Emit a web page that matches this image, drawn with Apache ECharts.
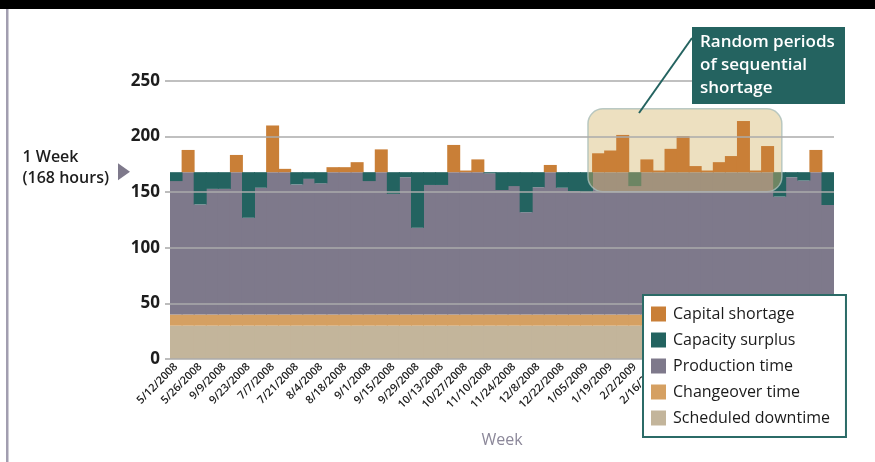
<!DOCTYPE html>
<html>
<head>
<meta charset="utf-8">
<script src="https://cdn.jsdelivr.net/npm/echarts@6/dist/echarts.min.js"></script>
<style>
  html, body { margin: 0; padding: 0; background: #fff; }
  #chart { width: 875px; height: 462px; }
</style>
</head>
<body>
<div id="chart"></div>
<script>
// Tick labels shown under every second week
const tickLabels = [
  '5/12/2008', '5/26/2008', '9/9/2008', '9/23/2008', '7/7/2008', '7/21/2008',
  '8/4/2008', '8/18/2008', '9/1/2008', '9/15/2008', '9/29/2008', '10/13/2008',
  '10/27/2008', '11/10/2008', '11/24/2008', '12/8/2008', '12/22/2008', '1/05/2009',
  '1/19/2009', '2/2/2009', '2/16/2009', '3/2/2009', '3/16/2009', '3/30/2009',
  '4/13/2009', '4/27/2009', '5/11/2009', '5/25/2009'
];

// Hours required per week (55 weeks)
const hoursRequired = [
  160, 188, 139, 153, 153, 183.5, 127, 154, 210, 171,
  157, 162, 158, 172.5, 172.5, 177, 160, 188.5, 148.5, 163.5,
  118, 156.5, 156.5, 192.5, 169.5, 179.5, 167, 152, 155.5, 132,
  154.5, 174.5, 154, 151, 150, 185, 187.5, 201.5, 155.5, 179.5,
  169.5, 189, 200.5, 173.5, 169.5, 177, 182.5, 214, 169.5, 191.5,
  146, 163.5, 160.5, 188, 138.5
];

const weekHours = 168;         // one week of capacity
const scheduledDowntime = 30;  // hours per week
const changeoverTime = 10;     // hours per week

const yTicks = { min: 0, max: 250, interval: 50 };

const colors = {
  shortage: '#c97f37',
  surplus: '#236360',
  production: '#7e798b',
  changeover: '#d5a062',
  downtime: '#c3b59b'
};

const categories = hoursRequired.map((_, i) => i);
const downtimeData = hoursRequired.map(() => scheduledDowntime);
const changeoverData = hoursRequired.map(() => changeoverTime);
const productionData = hoursRequired.map(v => Math.min(v, weekHours) - scheduledDowntime - changeoverTime);
const surplusData = hoursRequired.map(v => (v < weekHours ? weekHours - v : '-'));
const shortageData = hoursRequired.map(v => (v > weekHours ? v - weekHours : '-'));

const FONT = 'Open Sans';

const chart = echarts.init(document.getElementById('chart'), null, { renderer: 'canvas' });

function barSeries(name, data, color, z) {
  return {
    name, type: 'bar', stack: 'hours', data,
    // slightly wider than a category so adjacent weeks join without seams
    barWidth: 13,
    itemStyle: { color },
    z,
    emphasis: { disabled: true },
    animation: false
  };
}

chart.setOption({
  animation: false,
  textStyle: { fontFamily: FONT },
  grid: { left: 170, right: 41, top: 81, bottom: 103, containLabel: false },
  xAxis: {
    type: 'category',
    data: categories,
    boundaryGap: true,
    axisLine: { show: false },
    axisTick: { show: false },
    axisLabel: {
      interval: 0,
      rotate: 45,
      margin: 6,
      fontSize: 11,
      fontWeight: 600,
      color: '#222',
      fontFamily: FONT,
      formatter: (val, idx) => (idx % 2 === 0 ? tickLabels[idx / 2] : '')
    },
    name: 'Week',
    nameLocation: 'middle',
    nameGap: 73,
    nameTextStyle: { color: '#8b8799', fontSize: 16, fontFamily: FONT }
  },
  yAxis: {
    type: 'value',
    min: yTicks.min, max: yTicks.max, interval: yTicks.interval,
    z: 6,
    axisLine: { show: false },
    axisTick: { show: true, length: 5, lineStyle: { color: '#a8a8a8', width: 1.5 } },
    axisLabel: { fontSize: 17, fontWeight: 'bold', color: '#1d1d1d', margin: 10, fontFamily: FONT },
    splitLine: { show: true, lineStyle: { color: '#ababab', width: 1.5 } }
  },
  legend: {
    orient: 'vertical',
    left: 643, top: 295,
    padding: [11, 16, 11, 8],
    itemWidth: 15, itemHeight: 15, itemGap: 10,
    backgroundColor: '#fff',
    borderColor: '#2b6b67', borderWidth: 2,
    icon: 'rect',
    z: 20,
    selectedMode: false,
    textStyle: { fontSize: 16, color: '#1b1b1b', fontFamily: FONT, padding: [0, 0, 0, 2] },
    data: ['Capital shortage', 'Capacity surplus', 'Production time', 'Changeover time', 'Scheduled downtime']
  },
  series: [
    barSeries('Scheduled downtime', downtimeData, colors.downtime, 2),
    barSeries('Changeover time', changeoverData, colors.changeover, 2),
    barSeries('Production time', productionData, colors.production, 2),
    barSeries('Capacity surplus', surplusData, colors.surplus, 2),
    barSeries('Capital shortage', shortageData, colors.shortage, 4)
  ]
});

// Highlight box around the run of shortage weeks, placed on the axes
const firstIdx = 35, lastIdx = 50;
const cx0 = chart.convertToPixel({ xAxisIndex: 0 }, firstIdx);
const cx1 = chart.convertToPixel({ xAxisIndex: 0 }, firstIdx + 1);
const bw = cx1 - cx0;
const hx0 = cx0 - bw * 0.88;
const hx1 = chart.convertToPixel({ xAxisIndex: 0 }, lastIdx) + bw * 0.18;
const hy0 = chart.convertToPixel({ yAxisIndex: 0 }, 225);
const hy1 = chart.convertToPixel({ yAxisIndex: 0 }, 150.5);
const y168 = chart.convertToPixel({ yAxisIndex: 0 }, weekHours);

chart.setOption({
  graphic: [
    // header band and page rule
    { type: 'rect', shape: { x: 0, y: 0, width: 875, height: 9 }, style: { fill: '#000' }, z: 30 },
    { type: 'rect', shape: { x: 6, y: 9, width: 2.5, height: 453 }, style: { fill: '#a29eb0' }, z: 30 },
    // highlight of sequential shortage
    {
      type: 'rect', z: 3,
      shape: { x: hx0, y: hy0, width: hx1 - hx0, height: hy1 - hy0, r: 15 },
      style: { fill: 'rgba(212,182,104,0.42)', stroke: 'rgba(170,190,185,0.8)', lineWidth: 1.5 }
    },
    // leader line and callout
    {
      type: 'line', z: 30,
      shape: { x1: 692, y1: 38, x2: 639, y2: 113 },
      style: { stroke: '#246360', lineWidth: 2 }
    },
    { type: 'rect', z: 30, shape: { x: 692, y: 27, width: 153, height: 77 }, style: { fill: '#246360' } },
    {
      type: 'text', z: 31, left: 700, top: 31,
      style: {
        text: 'Random periods\nof sequential\nshortage',
        fill: '#fff', font: '600 17px "Open Sans"', lineHeight: 23
      }
    },
    // one-week capacity marker
    {
      type: 'text', z: 30, right: 875 - 109, top: y168 - 25,
      style: {
        text: '1 Week\n(168 hours)', fill: '#1d1d1d',
        font: '600 16px "Open Sans"', lineHeight: 21, align: 'right'
      }
    },
    {
      type: 'polygon', z: 30,
      shape: { points: [[118, y168 - 9], [130, y168 - 0.5], [118, y168 + 8]] },
      style: { fill: '#7e798b' }
    }
  ]
});
</script>
</body>
</html>
